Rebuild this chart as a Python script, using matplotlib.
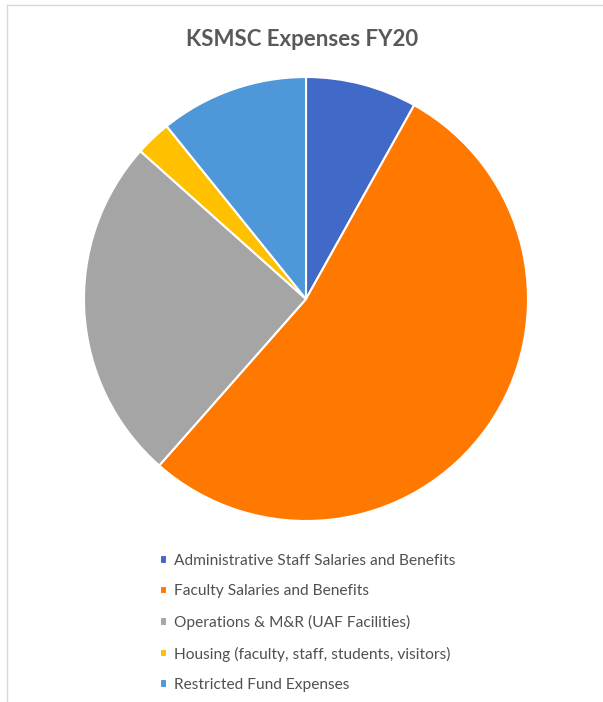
import matplotlib.pyplot as plt
from matplotlib.lines import Line2D

# data (shares, percent)
labels = ["Administrative Staff Salaries and Benefits",
          "Faculty Salaries and Benefits",
          "Operations & M&R (UAF Facilities)",
          "Housing (faculty, staff, students, visitors)",
          "Restricted Fund Expenses"]
shares = [8.1, 53.4, 25.1, 2.6, 10.8]
colors = ["#4169C8", "#FF7800", "#A5A5A5", "#FFC000", "#4E98D9"]

W, H = 603, 702
fig = plt.figure(figsize=(W / 100, H / 100), dpi=100)

# light frame (left and top edges of the chart area)
fig.add_artist(Line2D([7 / W, 7 / W], [0, 1 - 5 / H], color="#D9D9D9", lw=1))
fig.add_artist(Line2D([7 / W, 1], [1 - 5 / H, 1 - 5 / H], color="#D9D9D9", lw=1))

ax = fig.add_axes([84 / W, 181 / H, 444 / W, 444 / H])
wedges, _ = ax.pie(shares, colors=colors, startangle=90, counterclock=False,
                   wedgeprops=dict(edgecolor="white", linewidth=1.5))
ax.set_xlim(-1, 1)
ax.set_ylim(-1, 1)
ax.set_aspect("equal")
ax.axis("off")

fig.text(302 / W, 1 - 39 / H, "KSMSC Expenses FY20", ha="center", va="center",
         fontsize=16, fontweight="bold", color="#595959", family="Lato")

leg = fig.legend(wedges, labels, loc="upper left",
                 bbox_to_anchor=(146 / W, 1 - 540 / H), frameon=False,
                 handlelength=0.45, handleheight=0.45, handletextpad=0.45,
                 labelspacing=1.06, prop=dict(family="Lato", size=11.2))
for t in leg.get_texts():
    t.set_color("#505050")

fig.savefig("out.png", dpi=100)
